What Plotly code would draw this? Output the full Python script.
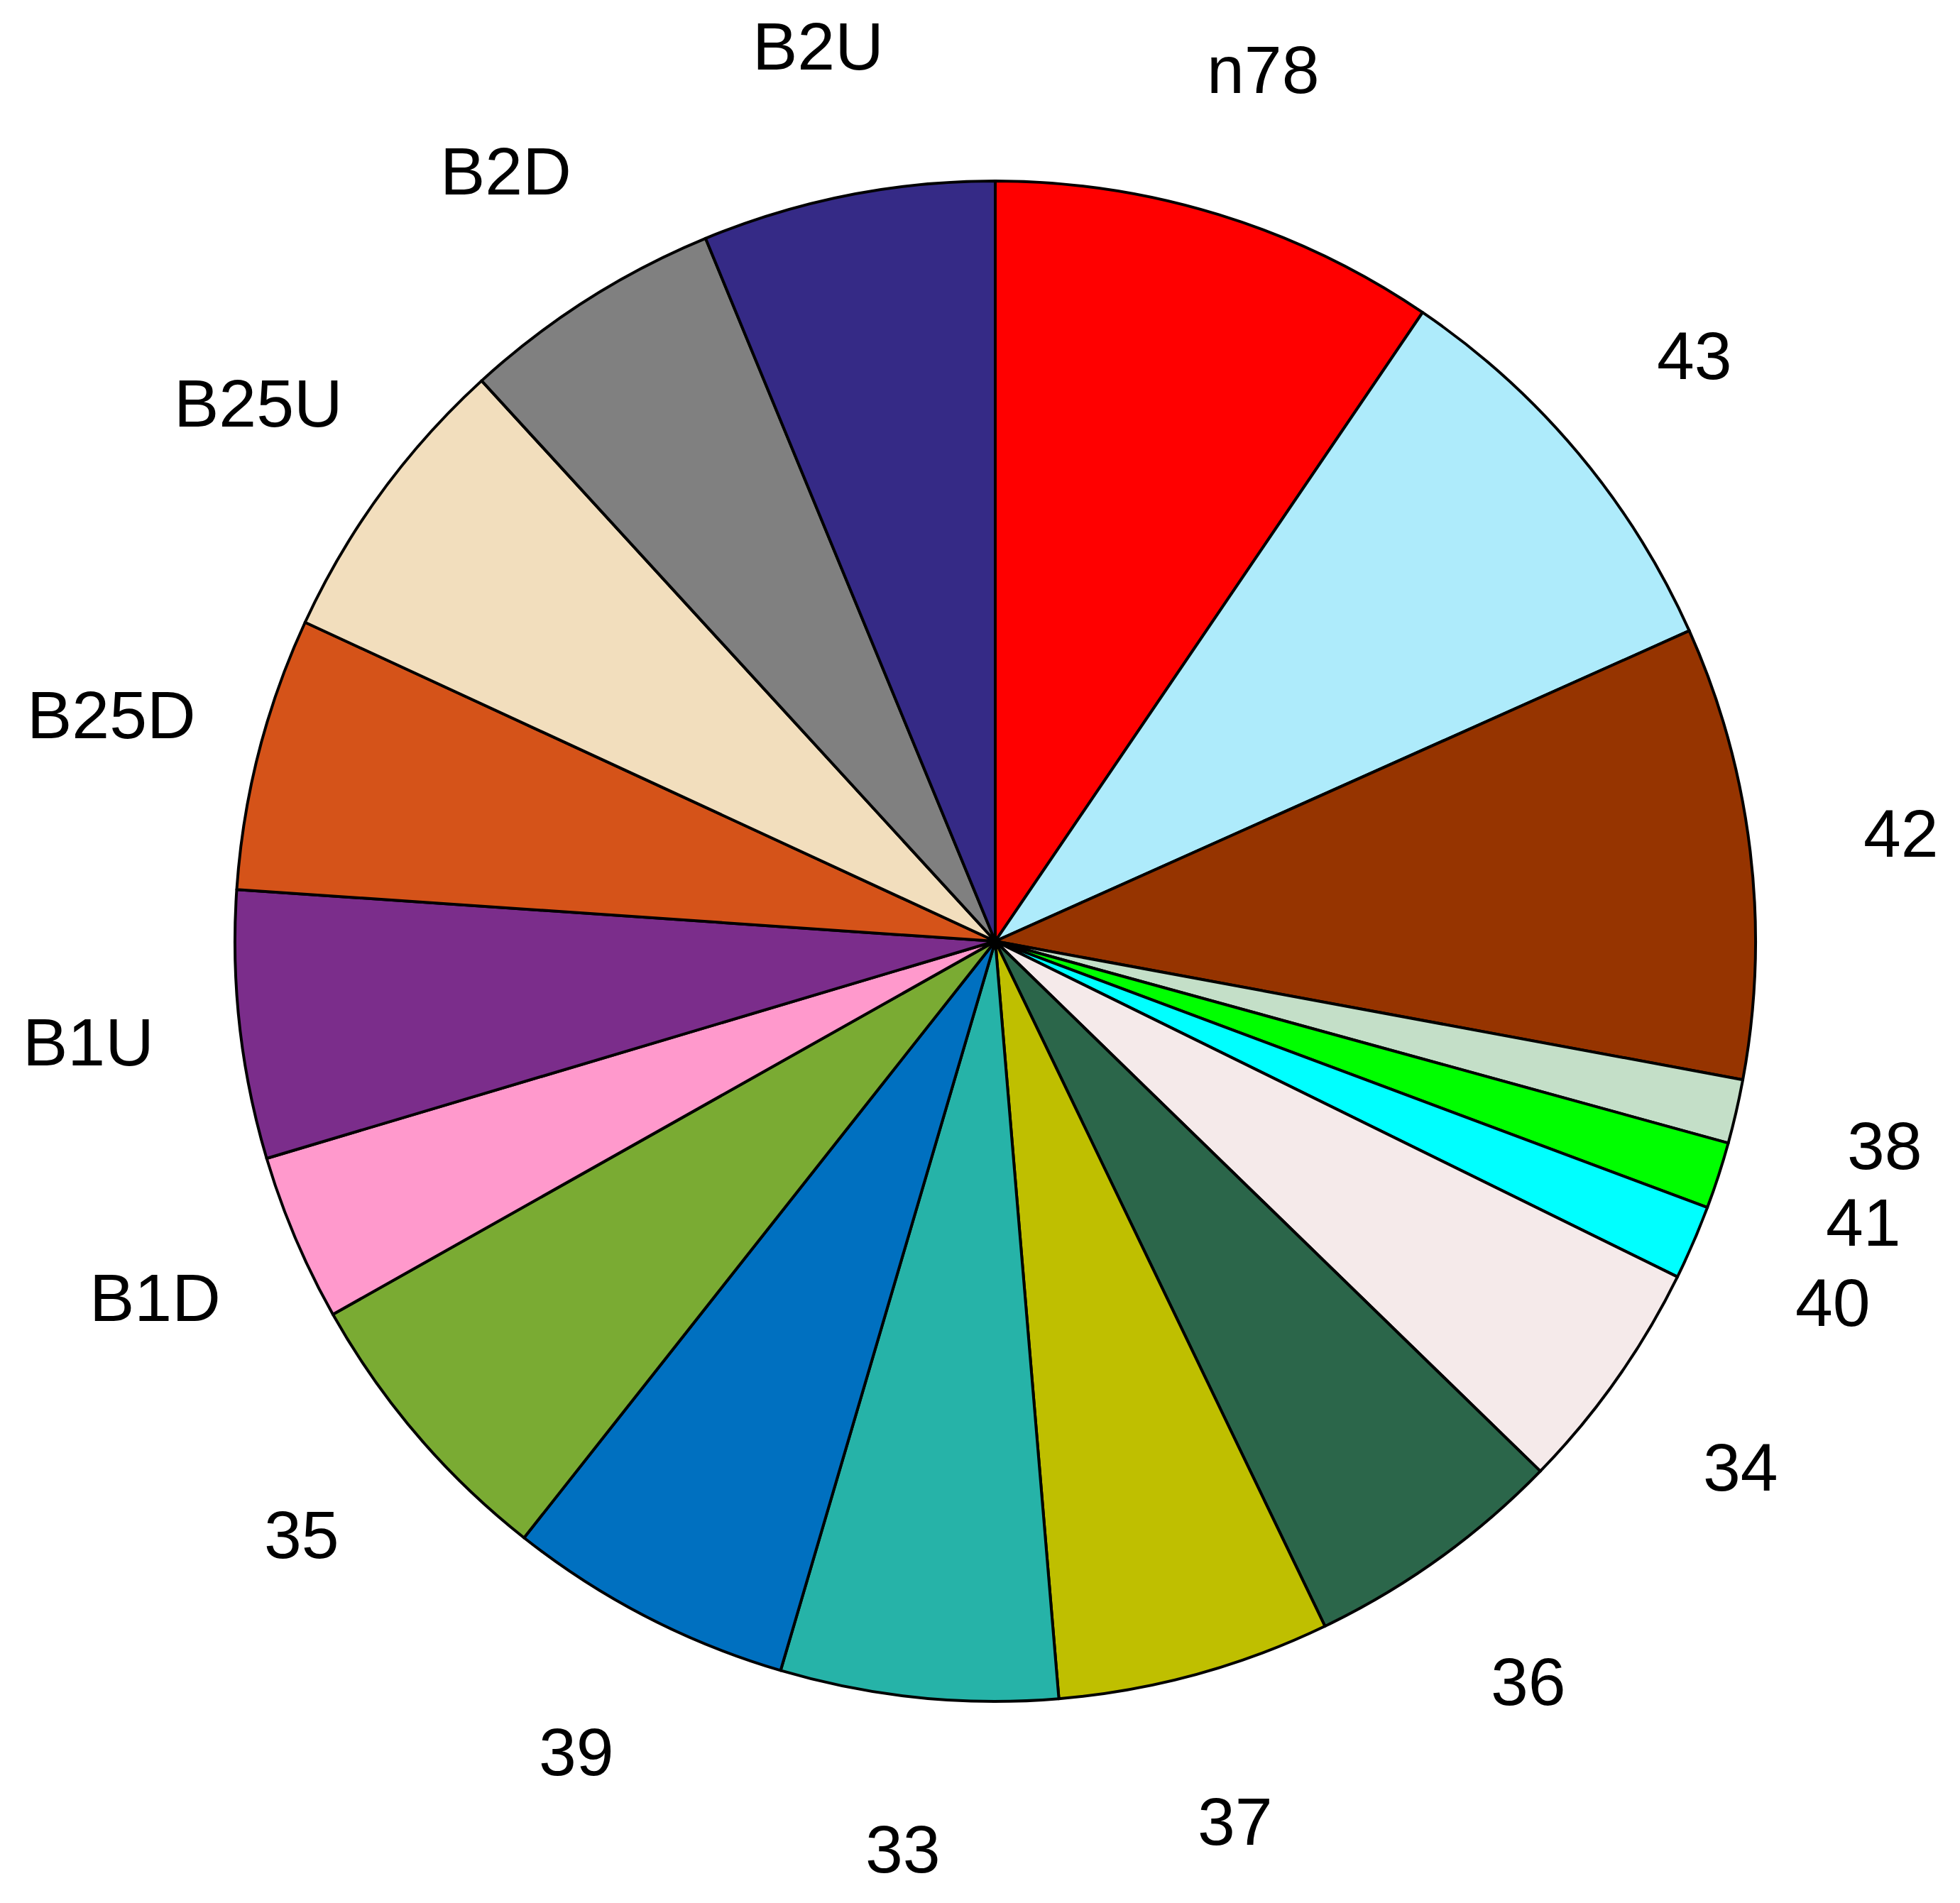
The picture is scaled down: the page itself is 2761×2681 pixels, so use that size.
import math
import plotly.graph_objects as go

# Slice labels, clockwise from 12 o'clock
labels = ["n78", "43", "42", "38", "41", "40", "34", "36", "37", "33",
          "39", "35", "B1D", "B1U", "B25D", "B25U", "B2D", "B2U"]

# Slice sizes (in degrees of the full circle)
values = [34.2, 31.7, 34.6, 4.9, 5.1, 5.7, 18.0, 20.1, 20.9, 21.2,
          21.9, 22.3, 12.8, 20.5, 20.9, 22.7, 20.1, 22.4]

colors = ["#FF0000", "#AEEBFB", "#963400", "#C4DFC8", "#00FF00", "#00FFFF",
          "#F5EAEA", "#2B664A", "#BFBF00", "#26B3A8", "#0070C0", "#7AAB33",
          "#FF99CC", "#7B2D8B", "#D55319", "#F2DEBD", "#808080", "#352A86"]

W, H = 2761, 2681
CX, CY = 1402, 1326       # pie centre in pixels (from top-left)
R = 1071                  # pie radius in pixels
LABEL_R = 1.2             # label distance relative to radius

xdom = [(CX - R) / W, (CX + R) / W]
cy_b = H - CY
ydom = [(cy_b - R) / H, (cy_b + R) / H]

fig = go.Figure(go.Pie(
    labels=labels,
    values=values,
    sort=False,
    direction="clockwise",
    rotation=0,
    marker=dict(colors=colors, line=dict(color="black", width=4)),
    textinfo="none",
    hoverinfo="label+value",
    showlegend=False,
    domain=dict(x=xdom, y=ydom),
))

total = sum(values)
annotations = []
cum = 0.0
for lab, v in zip(labels, values):
    mid = (cum + v / 2) / total * 2 * math.pi
    cum += v
    px = CX + LABEL_R * R * math.sin(mid)
    py_b = cy_b + LABEL_R * R * math.cos(mid)
    annotations.append(dict(
        x=px / W, y=py_b / H, xref="paper", yref="paper",
        text=lab, showarrow=False, xanchor="center", yanchor="middle",
        font=dict(family="Liberation Sans, Arial, sans-serif", size=95, color="black"),
    ))

fig.update_layout(
    width=W, height=H,
    margin=dict(l=0, r=0, t=0, b=0),
    paper_bgcolor="white",
    plot_bgcolor="white",
    annotations=annotations,
)

fig.write_html("out.html", config={"displayModeBar": False},
               post_script="document.body.style.margin='0';")
